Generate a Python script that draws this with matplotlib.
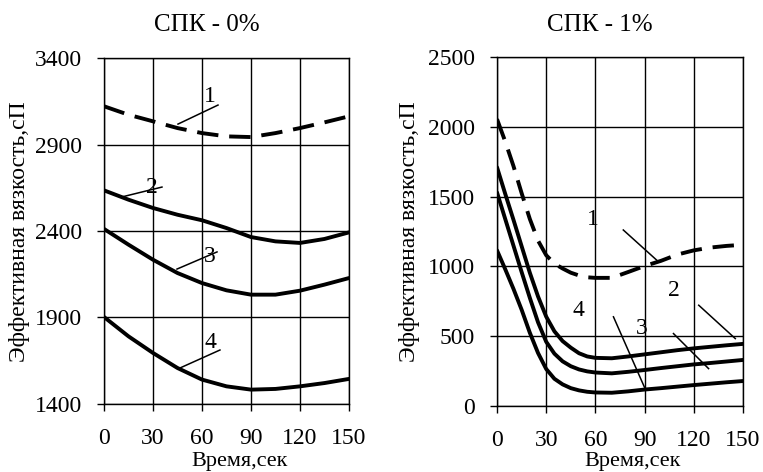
import numpy as np
import matplotlib.pyplot as plt

plt.rcParams['font.family'] = ['Liberation Serif', 'DejaVu Serif']

# left panel: СПК - 0%
t_left = [0, 15, 30, 45, 60, 75, 90, 105, 120, 135, 150]
left_1 = [3121, 3072, 3034, 2995, 2966, 2947, 2943, 2966, 2995, 3028, 3063]
left_2 = [2635, 2581, 2533, 2494, 2462, 2417, 2365, 2340, 2331, 2354, 2392]
left_3 = [2412, 2321, 2234, 2157, 2099, 2057, 2032, 2032, 2055, 2090, 2128]
left_4 = [1903, 1791, 1695, 1608, 1541, 1502, 1483, 1487, 1502, 1521, 1545]

# right panel: СПК - 1%
t_right = [0, 5, 10, 15, 20, 25, 30, 35, 40, 45, 50, 55, 60,
           70, 80, 90, 100, 110, 120, 130, 140, 150]
right_1 = [2055, 1895, 1720, 1525, 1340, 1185, 1080, 1020, 985, 955, 935, 922, 918,
           918, 960, 1003, 1040, 1085, 1115, 1135, 1147, 1155]
right_2 = [1710, 1520, 1335, 1145, 955, 785, 640, 535, 465, 418, 378, 355, 345,
           342, 355, 370, 385, 400, 413, 424, 435, 445]
right_3 = [1530, 1340, 1150, 960, 775, 600, 460, 375, 320, 285, 262, 248, 240,
           234, 245, 258, 272, 285, 298, 308, 319, 330]
right_4 = [1115, 980, 840, 690, 525, 380, 265, 195, 155, 128, 112, 102, 97,
           95, 105, 118, 128, 139, 150, 160, 170, 179]

x_ticks = [0, 30, 60, 90, 120, 150]
left_yticks = [1400, 1900, 2400, 2900, 3400]
right_yticks = [0, 500, 1000, 1500, 2000, 2500]

# curve labels: (text, label x, label y, leader x0, y0, x1, y1)
left_notes = [("1", 65, 3175, 45.3, 3018, 69.8, 3128),
              ("2", 29.4, 2649, 11, 2597, 35.5, 2654),
              ("3", 65, 2250, 44.7, 2180, 69.2, 2279),
              ("4", 65, 1758, 46.5, 1608, 71, 1712)]
right_notes = [("1", 58.7, 1333, 77, 1261, 98.5, 1033),
               ("2", 107.6, 830, 123, 722, 145.3, 483),
               ("3", 88.3, 555, 107.6, 519, 129, 268),
               ("4", 49.5, 687, 71, 639, 90.3, 124)]

fig = plt.figure(figsize=(7.63, 4.72), dpi=100)
ax1 = fig.add_axes([0.1363, 0.1441, 0.3211, 0.7330])
ax2 = fig.add_axes([0.6514, 0.1398, 0.3224, 0.7394])

fs = 17
lw = 2.8


def style(ax, yticks):
    ax.set_xlim(0, 150)
    ax.set_ylim(yticks[0], yticks[-1])
    ax.set_xticks(x_ticks)
    ax.set_yticks(yticks)
    ax.grid(True, color='black', linewidth=1.0)
    for s in ax.spines.values():
        s.set_color('black')
        s.set_linewidth(1.0)
    ax.tick_params(axis='both', direction='out', length=5, width=1.0,
                   labelsize=fs, colors='black')
    ax.tick_params(axis='x', pad=12)
    ax.tick_params(axis='y', pad=11)
    ax.set_axisbelow(True)


style(ax1, left_yticks)
style(ax2, right_yticks)

ax1.plot(t_left, left_1, color='black', lw=lw, dashes=(5.5, 2.8))
for ys in (left_2, left_3, left_4):
    ax1.plot(t_left, ys, color='black', lw=lw, solid_capstyle='round')

ax2.plot(t_right, right_1, color='black', lw=lw, dashes=(5.5, 2.8))
for ys in (right_2, right_3, right_4):
    ax2.plot(t_right, ys, color='black', lw=lw, solid_capstyle='round')

for ax, notes in ((ax1, left_notes), (ax2, right_notes)):
    for txt, tx, ty, x0, y0, x1, y1 in notes:
        ax.plot([x0, x1], [y0, y1], color='black', lw=1.1)
        ax.text(tx, ty, txt, fontsize=fs, ha='center', va='center')

ylab = "Эффективная вязкость,сП"
fig.text(20 / 763, 1 - 232 / 472, ylab, rotation=90, fontsize=17,
         ha='center', va='center')
fig.text(410 / 763, 1 - 232 / 472, ylab, rotation=90, fontsize=17,
         ha='center', va='center')

fig.text(240 / 763, 1 - 466 / 472, "Время,сек", fontsize=16, ha='center', va='baseline')
fig.text(633 / 763, 1 - 466 / 472, "Время,сек", fontsize=16, ha='center', va='baseline')

fig.text(207 / 763, 1 - 25 / 472, "СПК - 0%", fontsize=18, ha='center', va='center')
fig.text(600 / 763, 1 - 25 / 472, "СПК - 1%", fontsize=18, ha='center', va='center')

fig.savefig("out.png", dpi=100)
